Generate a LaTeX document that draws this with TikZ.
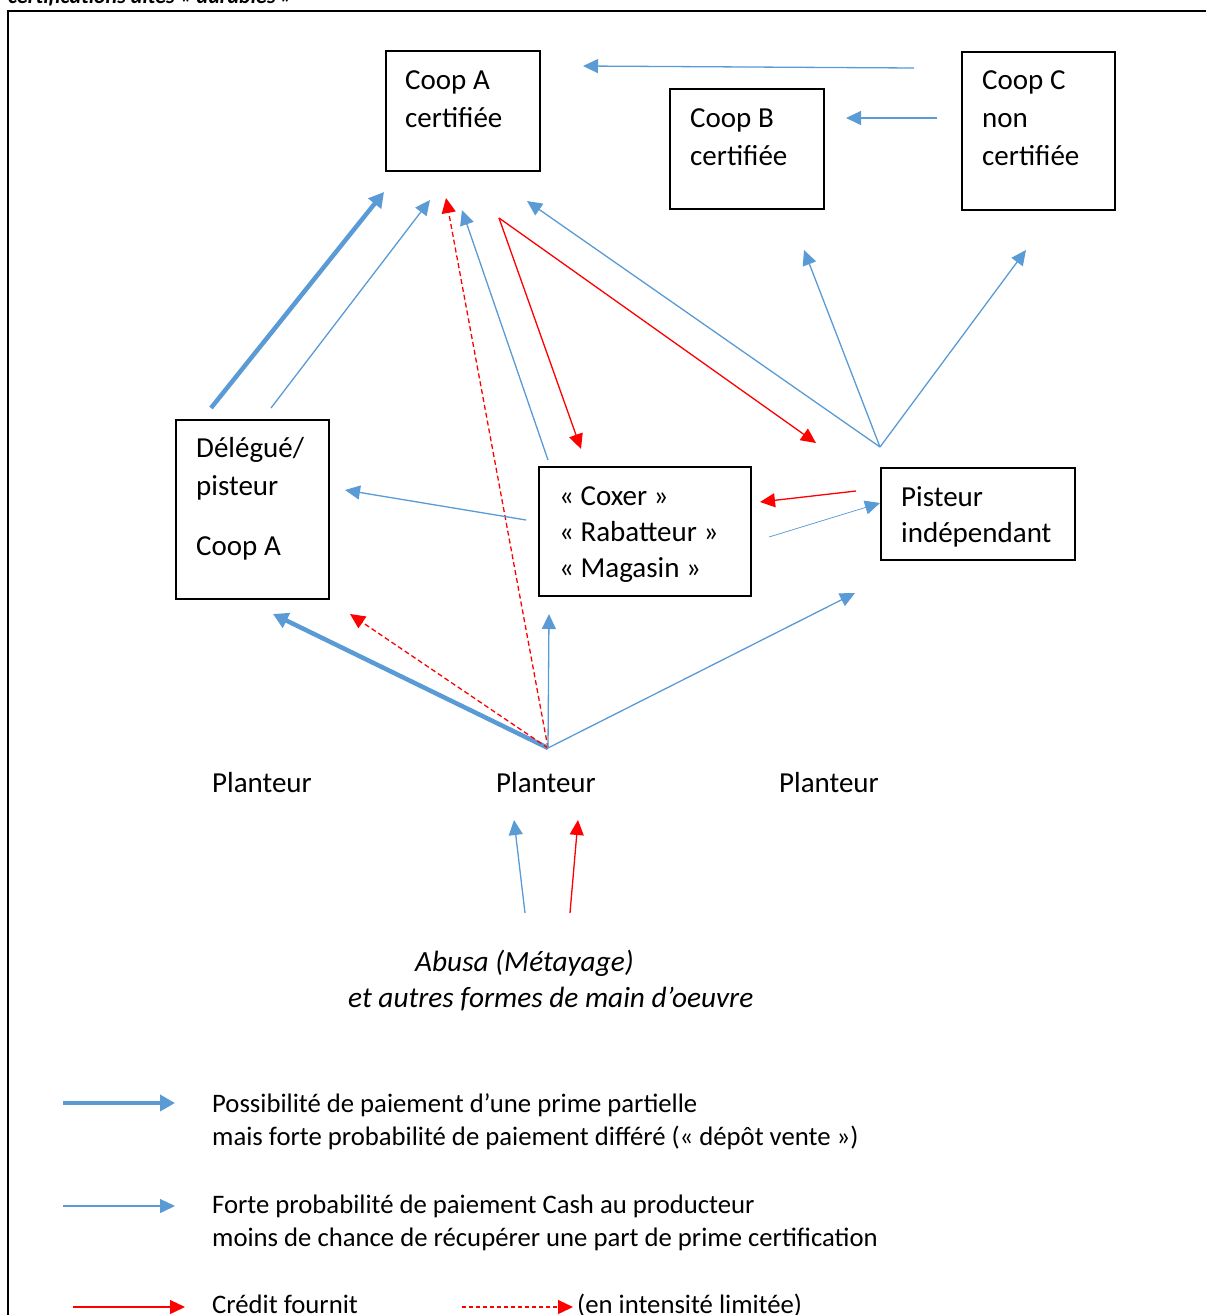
\documentclass[tikz,border=0pt]{standalone}
\usepackage{fontspec}
\setmainfont{Carlito}
\usetikzlibrary{arrows.meta}
\definecolor{bl}{HTML}{5B9BD5}
\definecolor{rd}{HTML}{FF0000}
\begin{document}
\begin{tikzpicture}[x=1pt,y=-1pt,
  box/.style={draw,line width=1.5pt,inner sep=0pt,anchor=north west},
  txt/.style={anchor=base west,inner sep=0pt,font=\fontsize{29}{38}\selectfont},
  txtb/.style={anchor=base west,inner sep=0pt,font=\fontsize{29}{36}\selectfont},
  leg/.style={anchor=base west,inner sep=0pt,font=\fontsize{26.7}{33}\selectfont},
  tipa/.style={-{Triangle[length=15pt,width=14pt]}},
  bthin/.style={tipa,draw=bl,fill=bl,line width=1.3pt},
  bthick/.style={tipa,draw=bl,fill=bl,line width=4.5pt,-{Triangle[length=15pt,width=16pt]}},
  bfine/.style={tipa,draw=bl,fill=bl,line width=0.7pt},
  rsolid/.style={tipa,draw=rd,fill=rd,line width=1.3pt},
  rdash/.style={draw=rd,line width=1.3pt,dash pattern=on 5pt off 3pt,-{Triangle[length=15pt,width=14pt,fill=rd,sep=0pt]}},
]
\useasboundingbox (0,0) rectangle (1206,1315);
% cut-off heading and frame
\node[anchor=base west,inner sep=0pt,font=\fontsize{22}{26}\selectfont\bfseries\itshape] (head) at (8,3) {certifications dites « durables »};
\draw[line width=1.5pt] (8,1330) -- (8,11) -- (1225,11);

% boxes
\node[box,minimum width=154pt,minimum height=120pt] (coopA) at (385,50) {};
\node[txt] (coopAt) at (405,89) {\begin{tabular}[t]{@{}l@{}}Coop A\\certifiée\end{tabular}};
\node[box,minimum width=154pt,minimum height=120pt] (coopB) at (669,88) {};
\node[txt] (coopBt) at (690,127) {\begin{tabular}[t]{@{}l@{}}Coop B\\certifiée\end{tabular}};
\node[box,minimum width=153pt,minimum height=158pt] (coopC) at (961,51) {};
\node[txt] (coopCt) at (982,89) {\begin{tabular}[t]{@{}l@{}}Coop C\\non\\certifiée\end{tabular}};
\node[box,minimum width=153pt,minimum height=179pt] (deleg) at (175,419) {};
\node[txt] (delegt) at (196,457) {\begin{tabular}[t]{@{}l@{}}Délégué/\\pisteur\\[22pt]Coop A\end{tabular}};
\node[box,minimum width=212pt,minimum height=129pt] (coxer) at (538,466) {};
\node[txtb] (coxert) at (559,505) {\begin{tabular}[t]{@{}l@{}}« Coxer »\\« Rabatteur »\\« Magasin »\end{tabular}};
\node[box,minimum width=194pt,minimum height=92pt] (pist) at (880,467) {};
\node[txtb] (pistt) at (901,506) {\begin{tabular}[t]{@{}l@{}}Pisteur\\indépendant\end{tabular}};

% planteurs
\node[txt,anchor=base] (pl1) at (262,792) {Planteur};
\node[txt,anchor=base] (pl2) at (546,792) {Planteur};
\node[txt,anchor=base] (pl3) at (829,792) {Planteur};
\node[txt,font=\fontsize{29.3}{36}\selectfont\itshape] (abusa) at (348,971) {\begin{tabular}[t]{@{}l@{}}\hspace*{67pt}Abusa (Métayage)\\et autres formes de main d’oeuvre\end{tabular}};

% coordinates
\coordinate (s1) at (211,408); \coordinate (e1) at (384,192);
\coordinate (s2) at (271,408); \coordinate (e2) at (430,200);
\coordinate (pp) at (548,748);
\coordinate (e3) at (446,198);
\coordinate (s4) at (548,460); \coordinate (e4) at (462,210);
\coordinate (rc) at (499,218);
\coordinate (e5) at (581,449); \coordinate (e6) at (816,443);
\coordinate (pi) at (880,447);
\coordinate (e7) at (527,201); \coordinate (e8) at (804,250); \coordinate (e9) at (1026,250);
\coordinate (s10) at (914,68); \coordinate (e10) at (583,66);
\coordinate (s11) at (937,118); \coordinate (e11) at (846,118);
\coordinate (s12) at (526,520); \coordinate (e12) at (345,490);
\coordinate (s13) at (856,491); \coordinate (e13) at (760,502);
\coordinate (s14) at (769,537); \coordinate (e14) at (880,503);
\coordinate (e15) at (273,614); \coordinate (e16) at (350,614);
\coordinate (e17) at (549,614); \coordinate (e18) at (855,593);
\coordinate (s19) at (525,913); \coordinate (e19) at (514,820);
\coordinate (s20) at (570,913); \coordinate (e20) at (578,820);

% connectors
\draw[bthick] (s1) -- (e1);
\draw[bthin] (s2) -- (e2);
\draw[rdash] (pp) -- (e3);
\draw[bthin] (s4) -- (e4);
\draw[rsolid] (rc) -- (e5);
\draw[rsolid] (rc) -- (e6);
\draw[bthin] (pi) -- (e7);
\draw[bthin] (pi) -- (e8);
\draw[bthin] (pi) -- (e9);
\draw[bthin] (s10) -- (e10);
\draw[bthin] (s11) -- (e11);
\draw[bthin] (s12) -- (e12);
\draw[rsolid] (s13) -- (e13);
\draw[bfine] (s14) -- (e14);
\draw[bthick] (pp) -- (e15);
\draw[rdash] (pp) -- (e16);
\draw[bthin] (pp) -- (e17);
\draw[bthin] (pp) -- (e18);
\draw[bthin] (s19) -- (e19);
\draw[rsolid] (s20) -- (e20);

% legend
\coordinate (l1s) at (63,1103); \coordinate (l1e) at (175,1103);
\coordinate (l2s) at (63,1206); \coordinate (l2e) at (175,1206);
\coordinate (l3s) at (73,1307); \coordinate (l3e) at (185,1307);
\coordinate (l4s) at (462,1307); \coordinate (l4e) at (573,1307);
\draw[bthick] (l1s) -- (l1e);
\draw[bthin] (l2s) -- (l2e);
\draw[rsolid] (l3s) -- (l3e);
\draw[rdash,dash pattern=on 4pt off 3pt] (l4s) -- (l4e);
\node[leg] (lt1) at (212,1112) {\begin{tabular}[t]{@{}l@{}}Possibilité de paiement d’une prime partielle\\mais forte probabilité de paiement différé (« dépôt vente »)\end{tabular}};
\node[leg] (lt2) at (212,1213) {\begin{tabular}[t]{@{}l@{}}Forte probabilité de paiement Cash au producteur\\moins de chance de récupérer une part de prime certification\end{tabular}};
\node[leg] (lt3) at (212,1313) {Crédit fournit};
\node[leg] (lt4) at (577,1313) {(en intensité limitée)};
\end{tikzpicture}
\end{document}
